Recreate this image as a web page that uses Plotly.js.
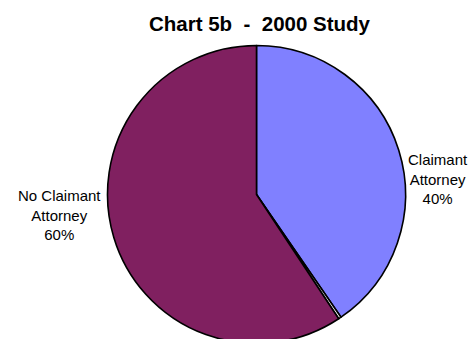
<!DOCTYPE html>
<html>
<head>
<meta charset="utf-8">
<script src="https://cdn.plot.ly/plotly-3.0.1.min.js"></script>
<style>
html,body{margin:0;padding:0;overflow:hidden;background:#fff;}
#chart{width:474px;height:345px;}
</style>
</head>
<body>
<div id="chart"></div>
<script>
// Data
const categories = ["Claimant Attorney", "", "No Claimant Attorney"];
const values = [40.4, 0.3, 59.3];
const percentLabels = ["40%", "", "60%"];
const labelLines = [["Claimant", "Attorney"], [], ["No Claimant", "Attorney"]];
const sliceColors = ["#8080FF", "#FFFFFF", "#802060"];

const W = 474, H = 345;
function px(x){ return x / W; }
function py(y){ return 1 - y / H; }

const trace = {
  type: "pie",
  labels: categories.map((c, i) => c || "gap"),
  values: values,
  sort: false,
  direction: "clockwise",
  rotation: 0,
  textinfo: "none",
  hoverinfo: "none",
  marker: { colors: sliceColors, line: { color: "#000000", width: 1.6 } },
  domain: { x: [px(107.5), px(405.5)], y: [py(343.5), py(45.5)] },
  showlegend: false
};

const labelPos = [[438, 179.5], null, [59.5, 214.5]];
const annotations = [];
categories.forEach((c, i) => {
  if (!labelPos[i]) return;
  annotations.push({
    xref: "paper", yref: "paper",
    x: px(labelPos[i][0]), y: py(labelPos[i][1]),
    xanchor: "center", yanchor: "middle",
    showarrow: false,
    align: "center",
    text: labelLines[i].concat([percentLabels[i]]).join("<br>"),
    font: { family: "Liberation Sans, Arial, sans-serif", size: 15, color: "#000000" }
  });
});

const layout = {
  width: W, height: H,
  margin: { l: 0, r: 0, t: 0, b: 0 },
  paper_bgcolor: "#ffffff",
  title: {
    text: "<b>Chart 5b &nbsp;- &nbsp;2000 Study</b>",
    font: { family: "Liberation Sans, Arial, sans-serif", size: 20.5, color: "#000000" },
    x: px(259.5), xanchor: "center", xref: "paper",
    y: py(24), yanchor: "middle", yref: "container"
  },
  annotations: annotations
};

Plotly.newPlot("chart", [trace], layout, { displayModeBar: false, staticPlot: true });
</script>
</body>
</html>
